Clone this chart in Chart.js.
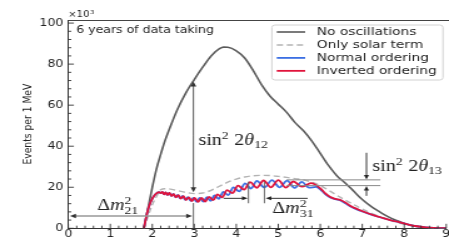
<!DOCTYPE html>
<html>
<head>
<meta charset="utf-8">
<script src="https://cdn.jsdelivr.net/npm/chart.js@4.4.0/dist/chart.umd.min.js"></script>
<style>
html, body { margin: 0; padding: 0; background: #fff; overflow: hidden; }
</style>
</head>
<body>
<!-- drawn at 359 px wide and stretched to 449 px, like the reference -->
<canvas id="spectrum" width="359" height="245" style="display:block;width:449px;height:245px"></canvas>
<script>
// Ticks
const xTicks = [0, 1, 2, 3, 4, 5, 6, 7, 8, 9];
const yTicks = [0, 20, 40, 60, 80, 100];

// No oscillations (events per 1 MeV, x10^3)
const noOscE = [1.8, 1.9, 2.0, 2.1, 2.2, 2.3, 2.4, 2.6, 2.8, 3.0, 3.2, 3.4, 3.6, 3.7, 3.8, 4.0, 4.2, 4.4, 4.6, 4.8, 5.0, 5.2, 5.4, 5.6, 5.8, 6.0, 6.2, 6.4, 6.6, 6.8, 7.0, 7.2, 7.4, 7.6, 7.8, 8.0, 8.2, 8.4, 8.6, 8.8, 9.0];
const noOscV = [0, 10, 20, 29, 36, 42.5, 48, 58, 66, 72.5, 78.5, 84, 87.5, 88.3, 88.2, 86.5, 83, 77, 70, 64.5, 60.5, 56.5, 51.5, 47.5, 42.5, 36.5, 30.5, 25.5, 22, 18, 14, 10.8, 8.2, 5.8, 3.9, 2.4, 1.3, 0.6, 0.2, 0.05, 0];

// Only solar term
const solarE = [1.8, 1.9, 2.0, 2.1, 2.2, 2.3, 2.4, 2.6, 2.8, 3.0, 3.2, 3.4, 3.6, 3.8, 4.0, 4.2, 4.4, 4.6, 4.8, 5.0, 5.2, 5.4, 5.6, 5.8, 6.0, 6.2, 6.4, 6.6, 6.8, 7.0, 7.2, 7.4, 7.6, 7.8, 8.0, 8.2, 8.4, 8.6, 8.8, 9.0];
const solarV = [0, 6, 11.5, 15.5, 18.8, 19.3, 19.2, 18.4, 17.5, 16.9, 17.2, 18.5, 20.5, 22.5, 24, 25, 25.6, 25.8, 25.7, 25.3, 24.8, 24.2, 23.6, 22.5, 20.8, 18.5, 16, 13.7, 11.5, 9.4, 7.5, 5.8, 4.3, 3.0, 2.0, 1.2, 0.6, 0.25, 0.08, 0];

// Normal ordering
const normalE = [1.8, 1.85, 1.9, 1.95, 2.0, 2.05, 2.1, 2.16, 2.2, 2.24, 2.278, 2.315, 2.357, 2.40, 2.45, 2.50, 2.553, 2.605, 2.663, 2.72, 2.783, 2.845, 2.913, 2.98, 3.055, 3.13, 3.215, 3.30, 3.39, 3.48, 3.585, 3.69, 3.81, 3.93, 4.07, 4.21, 4.35, 4.49, 4.67, 4.85, 5.03, 5.21, 5.385, 5.56, 5.73, 5.9, 6.0, 6.12, 6.24, 6.36, 6.48, 6.6, 6.71, 6.9, 7.1, 7.3, 7.5, 7.7, 7.9, 8.1, 8.3, 8.5, 8.7, 9.0];
const normalV = [0, 5, 9.2, 12.3, 14.5, 16, 17, 17.6, 17.1, 17.7, 16.6, 17.55, 16.25, 17.25, 15.8, 16.75, 15.15, 16.25, 14.55, 15.75, 13.9, 15.2, 13.35, 14.8, 12.9, 14.8, 12.95, 15.2, 13.4, 16.0, 14.4, 17.7, 16.2, 19.9, 18.0, 21.9, 19.4, 23.1, 19.9, 23.45, 19.95, 23.2, 19.7, 22.6, 19.8, 20.2, 19.0, 16.6, 15.0, 14.2, 13.6, 12.2, 10.8, 9.0, 7.5, 6.1, 4.9, 3.8, 2.9, 1.8, 1.0, 0.5, 0.2, 0.05];

// Inverted ordering
const invertedE = [1.8, 1.85, 1.9, 1.95, 2.0, 2.05, 2.1, 2.16, 2.2, 2.24, 2.28, 2.32, 2.365, 2.41, 2.46, 2.51, 2.565, 2.62, 2.68, 2.74, 2.805, 2.87, 2.94, 3.01, 3.09, 3.17, 3.26, 3.35, 3.45, 3.55, 3.665, 3.78, 3.91, 4.04, 4.185, 4.33, 4.49, 4.65, 4.825, 5.0, 5.18, 5.36, 5.56, 5.78, 6.0, 6.12, 6.24, 6.36, 6.48, 6.6, 6.71, 6.9, 7.1, 7.3, 7.5, 7.7, 7.9, 8.1, 8.3, 8.5, 8.7, 9.0];
const invertedV = [0, 5, 9.2, 12.3, 14.5, 16, 17, 17.6, 17.1, 17.7, 16.6, 17.55, 16.25, 17.2, 15.75, 16.7, 15.1, 16.2, 14.45, 15.65, 13.8, 15.1, 13.25, 14.8, 12.85, 14.85, 13.0, 15.35, 13.7, 16.5, 15.1, 18.6, 17.15, 20.8, 18.8, 22.5, 19.75, 23.3, 19.95, 23.45, 19.8, 22.8, 20.3, 22.0, 19.5, 17, 15.2, 14.3, 13.8, 12.5, 11, 9.2, 7.6, 6.2, 5.0, 3.8, 2.9, 1.8, 1.0, 0.5, 0.2, 0.05];

const seriesLabels = ['No oscillations', 'Only solar term', 'Normal ordering', 'Inverted ordering'];

const toPoints = (xs, ys) => xs.map((x, i) => ({x: x, y: ys[i]}));

const sans = '"DejaVu Sans", sans-serif';
const serif = '"Liberation Serif", "DejaVu Serif", serif';
Chart.defaults.font.family = sans;
Chart.defaults.color = '#222';

// arrow with a filled head at (x2, y2)
const arrow = (ctx, x1, y1, x2, y2, head, lineColor, headColor) => {
    const a = Math.atan2(y2 - y1, x2 - x1);
    const c = Math.cos(a), s = Math.sin(a);
    ctx.strokeStyle = lineColor;
    ctx.beginPath();
    ctx.moveTo(x1, y1);
    ctx.lineTo(x2 - c * head * 0.7, y2 - s * head * 0.7);
    ctx.stroke();
    ctx.fillStyle = headColor;
    ctx.beginPath();
    ctx.moveTo(x2, y2);
    ctx.lineTo(x2 - head * c + head * 0.45 * s, y2 - head * s - head * 0.45 * c);
    ctx.lineTo(x2 - head * c - head * 0.45 * s, y2 - head * s + head * 0.45 * c);
    ctx.closePath();
    ctx.fill();
};

// little LaTeX-ish text: pieces of {t, s, it, dy, stay, gap}
const mathText = (ctx, x, y, pieces) => {
    ctx.textBaseline = 'alphabetic';
    ctx.textAlign = 'left';
    ctx.fillStyle = '#222';
    pieces.forEach(p => {
        x += p.gap || 0;
        ctx.font = (p.it ? 'italic ' : '') + p.s + 'px ' + serif;
        ctx.fillText(p.t, x, y + (p.dy || 0));
        if (!p.stay) x += ctx.measureText(p.t).width;
    });
};

const decorations = {
    id: 'decorations',
    afterDatasetsDraw(chart) {
        const {ctx, chartArea: area, scales: {x, y}} = chart;
        const px = v => x.getPixelForValue(v);
        const py = v => y.getPixelForValue(v);
        ctx.save();

        // top spine
        ctx.strokeStyle = '#444';
        ctx.lineWidth = 1;
        ctx.beginPath();
        ctx.moveTo(area.left, area.top + 0.5);
        ctx.lineTo(chart.width, area.top + 0.5);
        ctx.stroke();

        // inward ticks
        ctx.strokeStyle = '#333';
        ctx.lineWidth = 0.9;
        ctx.beginPath();
        for (let k = 0; k <= 25; k++) {
            const yy = py(k * 4);
            const len = k % 5 === 0 ? 4.5 : 2.4;
            ctx.moveTo(area.left, yy);
            ctx.lineTo(area.left + len, yy);
        }
        for (let k = 0; k <= 45; k++) {
            const xx = px(k * 0.2);
            const len = k % 5 === 0 ? 4.5 : 2.6;
            ctx.moveTo(xx, area.bottom);
            ctx.lineTo(xx, area.bottom - len);
        }
        ctx.stroke();

        // x10^3
        ctx.fillStyle = '#222';
        ctx.textBaseline = 'alphabetic';
        ctx.textAlign = 'left';
        ctx.font = '8px ' + sans;
        ctx.fillText('\u00d710', area.left, 17);
        const w10 = ctx.measureText('\u00d710').width;
        ctx.font = '5.5px ' + sans;
        ctx.fillText('3', area.left + w10 + 0.5, 13.5);

        // run label
        ctx.font = '10px ' + sans;
        ctx.fillText('6 years of data taking', px(0.19), py(95.1));

        ctx.lineWidth = 1;
        // sin^2 2theta12
        arrow(ctx, px(2.98), py(45), px(2.98), py(71.5), 5, '#555', '#333');
        arrow(ctx, px(2.98), py(45), px(2.98), py(17.6), 5, '#555', '#333');
        mathText(ctx, px(3.1), py(40.6), [
            {t: 'sin', s: 16}, {t: '2', s: 11, dy: -6},
            {t: '2', s: 16, gap: 4.5}, {t: '\u03b8', s: 16, it: true}, {t: '12', s: 11, dy: 3}
        ]);

        // Delta m^2_21
        ctx.lineWidth = 1.4;
        arrow(ctx, px(1.5), py(6), px(0.04), py(6), 4.8, '#999', '#333');
        arrow(ctx, px(1.5), py(6), px(2.95), py(6), 4.8, '#999', '#333');
        ctx.lineWidth = 1;
        ctx.strokeStyle = '#666';
        ctx.beginPath();
        ctx.moveTo(px(2.98), py(0));
        ctx.lineTo(px(2.98), py(12.3));
        ctx.stroke();
        mathText(ctx, px(0.69), py(8.7), [
            {t: '\u0394', s: 16}, {t: 'm', s: 16, it: true},
            {t: '2', s: 11, dy: -6, stay: true}, {t: '21', s: 11, dy: 4}
        ]);

        // Delta m^2_31
        ctx.strokeStyle = '#666';
        ctx.beginPath();
        ctx.moveTo(px(4.29), py(12.2));
        ctx.lineTo(px(4.29), py(22.7));
        ctx.moveTo(px(4.67), py(12.2));
        ctx.lineTo(px(4.67), py(22.7));
        ctx.stroke();
        arrow(ctx, px(3.7), py(14.6), px(4.27), py(14.6), 4.5, '#333', '#222');
        arrow(ctx, px(5.7), py(14.6), px(4.7), py(14.6), 4.5, '#333', '#222');
        mathText(ctx, px(4.86), py(7.6), [
            {t: '\u0394', s: 16}, {t: 'm', s: 16, it: true},
            {t: '2', s: 11, dy: -6, stay: true}, {t: '31', s: 11, dy: 4}
        ]);

        // sin^2 2theta13
        ctx.strokeStyle = '#888';
        ctx.beginPath();
        ctx.moveTo(px(5.2), py(23.6));
        ctx.lineTo(px(7.43), py(23.6));
        ctx.moveTo(px(5.2), py(20.8));
        ctx.lineTo(px(7.43), py(20.8));
        ctx.stroke();
        arrow(ctx, px(7.1), py(36.8), px(7.1), py(23.8), 4.5, '#333', '#222');
        arrow(ctx, px(7.1), py(15.8), px(7.1), py(20.6), 4.5, '#333', '#222');
        mathText(ctx, px(7.24), py(27.7), [
            {t: 'sin', s: 16}, {t: '2', s: 11, dy: -6},
            {t: '2', s: 16, gap: 4.5}, {t: '\u03b8', s: 16, it: true}, {t: '13', s: 11, dy: 3}
        ]);

        // legend
        const bx = 217.4, by = 25, bw = 136.8, bh = 55;
        ctx.fillStyle = 'rgba(255,255,255,0.85)';
        ctx.strokeStyle = '#d2d2d2';
        ctx.lineWidth = 1;
        ctx.beginPath();
        ctx.roundRect(bx, by, bw, bh, 2.5);
        ctx.fill();
        ctx.stroke();
        ctx.font = '11px ' + sans;
        ctx.textBaseline = 'middle';
        chart.data.datasets.forEach((ds, i) => {
            const yy = 32 + i * 12.95;
            ctx.strokeStyle = ds.borderColor;
            ctx.lineWidth = ds.borderWidth;
            ctx.setLineDash(ds.borderDash || []);
            ctx.beginPath();
            ctx.moveTo(221.3, yy);
            ctx.lineTo(244, yy);
            ctx.stroke();
            ctx.setLineDash([]);
            ctx.fillStyle = '#222';
            ctx.fillText(ds.label, 253.3, yy + 0.5);
        });

        ctx.restore();
    }
};

new Chart(document.getElementById('spectrum'), {
    type: 'line',
    data: {
        datasets: [{
            label: seriesLabels[0],
            data: toPoints(noOscE, noOscV),
            borderColor: '#5a5a5a',
            borderWidth: 1.6,
            order: 3
        }, {
            label: seriesLabels[1],
            data: toPoints(solarE, solarV),
            borderColor: '#b3b3b3',
            borderWidth: 1.4,
            borderDash: [5, 3],
            order: 2
        }, {
            label: seriesLabels[2],
            data: toPoints(normalE, normalV),
            borderColor: '#3b6fe3',
            borderWidth: 1.8,
            order: 1
        }, {
            label: seriesLabels[3],
            data: toPoints(invertedE, invertedV),
            borderColor: '#e0143c',
            borderWidth: 1.8,
            order: 0
        }]
    },
    options: {
        responsive: false,
        animation: false,
        devicePixelRatio: 1,
        layout: { padding: { left: 0, top: 20, right: 2.2, bottom: 0 } },
        elements: {
            point: { radius: 0 },
            line: { cubicInterpolationMode: 'monotone', fill: false }
        },
        plugins: {
            legend: { display: false },
            tooltip: { enabled: false }
        },
        scales: {
            x: {
                type: 'linear',
                min: 0,
                max: 9,
                grid: { display: false, drawTicks: false },
                border: { display: true, color: '#333', width: 1 },
                ticks: { padding: 0, font: { size: 10 }, color: '#222', maxRotation: 0, autoSkip: false },
                afterBuildTicks: s => { s.ticks = xTicks.map(v => ({ value: v })); },
                afterFit: s => { s.height = 16.7; s.paddingLeft = 0; s.paddingRight = 0; }
            },
            y: {
                type: 'linear',
                min: 0,
                max: 101.5,
                grid: { display: false, drawTicks: false },
                border: { display: true, color: '#333', width: 1 },
                ticks: { padding: 4, font: { size: 10 }, color: '#222' },
                afterBuildTicks: s => { s.ticks = yTicks.map(v => ({ value: v })); },
                afterFit: s => { s.width = 54.6; s.paddingTop = 0; s.paddingBottom = 0; },
                title: {
                    display: true,
                    text: 'Events per 1 MeV',
                    font: { size: 9.2 },
                    color: '#222',
                    padding: { top: 17, bottom: 0 }
                }
            }
        }
    },
    plugins: [decorations]
});
</script>
</body>
</html>
